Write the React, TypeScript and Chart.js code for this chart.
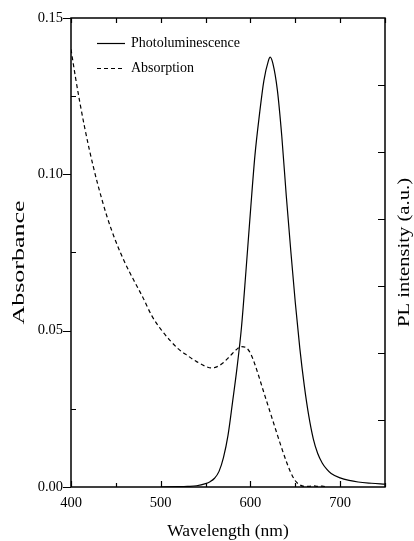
import React, { useEffect, useRef } from "react";
import { Chart, registerables } from "chart.js";

Chart.register(...registerables);

// ---- data ----
const absWavelength = [400, 405, 410, 415, 420, 425, 430, 440, 450, 460, 470, 480, 490, 500, 510, 520, 530, 540, 550, 556, 560, 565, 570, 575, 580, 585, 590, 595, 600, 605, 610, 615, 620, 625, 630, 635, 640, 645, 650, 655, 660, 665, 670, 675, 680, 685];
const absValues = [0.1400, 0.1310, 0.1228, 0.1153, 0.1085, 0.1023, 0.0966, 0.0866, 0.0785, 0.0718, 0.0661, 0.0607, 0.0548, 0.0505, 0.0470, 0.0441, 0.0420, 0.0401, 0.0386, 0.0381, 0.0382, 0.0388, 0.0398, 0.0412, 0.0427, 0.0441, 0.0449, 0.0446, 0.0428, 0.0392, 0.0348, 0.0302, 0.0257, 0.0212, 0.0167, 0.0123, 0.0082, 0.0046, 0.0020, 0.0007, 0.0002, 0.0002, 0.0004, 0.0002, 0.0003, 0.0];

const plWavelength = [500, 520, 530, 540, 550, 555, 560, 565, 570, 575, 580, 585, 590, 595, 600, 605, 610, 615, 620, 622, 625, 630, 635, 640, 645, 650, 655, 660, 665, 670, 675, 680, 685, 690, 700, 710, 720, 735, 750];
const plValues = [0, 0.0001, 0.0002, 0.0004, 0.0011, 0.0017, 0.0028, 0.005, 0.0095, 0.0165, 0.027, 0.038, 0.051, 0.069, 0.088, 0.106, 0.119, 0.130, 0.1363, 0.1375, 0.1355, 0.127, 0.112, 0.093, 0.0755, 0.059, 0.0445, 0.0325, 0.0228, 0.0155, 0.0107, 0.0077, 0.0057, 0.0043, 0.0029, 0.0021, 0.0016, 0.0012, 0.0009];

const seriesLabels = ["Photoluminescence", "Absorption"];
const xTickValues = [400, 500, 600, 700];
const xMinorStep = 50;
const yTickValues = [0, 0.05, 0.1, 0.15];
const yMinorStep = 0.025;
const y2TickValues = [1, 2, 3, 4, 5, 6];
const xTitle = "Wavelength (nm)";
const yTitle = "Absorbance";
const y2Title = "PL intensity (a.u.)";

const SERIF = "'Liberation Serif', 'Times New Roman', serif";

const frameTicksPlugin = {
  id: "frameTicks",
  afterDraw(chart: any) {
    const { ctx, chartArea } = chart;
    const { left, right, top, bottom } = chartArea;
    const xs = chart.scales.x;
    const ys = chart.scales.y;
    const y2s = chart.scales.y2;
    ctx.save();
    ctx.strokeStyle = "#000";
    ctx.lineWidth = 1.5;
    ctx.strokeRect(left, top, right - left, bottom - top);
    ctx.lineWidth = 1.2;
    ctx.beginPath();
    for (let v = xs.min; v <= xs.max + 1e-9; v += xMinorStep) {
      const px = Math.round(xs.getPixelForValue(v)) + 0.5;
      const major = xTickValues.includes(v);
      ctx.moveTo(px, bottom);
      ctx.lineTo(px, bottom - (major ? 6 : 4));
      ctx.moveTo(px, top);
      ctx.lineTo(px, top + 5);
    }
    for (let i = 0; i * yMinorStep <= ys.max + 1e-9; i++) {
      const v = i * yMinorStep;
      const py = Math.round(ys.getPixelForValue(v)) + 0.5;
      if (i % 2 === 0) {
        ctx.moveTo(left - 8, py);
        ctx.lineTo(left, py);
      } else {
        ctx.moveTo(left, py);
        ctx.lineTo(left + 5, py);
      }
    }
    for (const v of y2TickValues) {
      const py = Math.round(y2s.getPixelForValue(v)) + 0.5;
      ctx.moveTo(right, py);
      ctx.lineTo(right - 7, py);
    }
    ctx.stroke();
    ctx.restore();
  },
};

const innerLegendPlugin = {
  id: "innerLegend",
  afterDraw(chart: any) {
    const { ctx, chartArea } = chart;
    const x0 = chartArea.left + 26;
    const y0 = chartArea.top + 25;
    ctx.save();
    ctx.font = `14px ${SERIF}`;
    ctx.fillStyle = "#000";
    ctx.textBaseline = "middle";
    chart.data.datasets.forEach((ds: any, i: number) => {
      const y = Math.round(y0 + i * 25) + 0.5;
      ctx.strokeStyle = "#000";
      ctx.lineWidth = 1.2;
      ctx.setLineDash(ds.borderDash || []);
      ctx.beginPath();
      ctx.moveTo(x0, y);
      ctx.lineTo(x0 + 28, y);
      ctx.stroke();
      ctx.setLineDash([]);
      ctx.fillText(ds.label, x0 + 34, y);
    });
    ctx.restore();
  },
};

const verticalTitlesPlugin = {
  id: "verticalTitles",
  afterDraw(chart: any) {
    const { ctx, chartArea } = chart;
    const midY = (chartArea.top + chartArea.bottom) / 2;
    const draw = (text: string, cx: number, cy: number, length: number) => {
      ctx.save();
      ctx.translate(cx, cy);
      ctx.rotate(-Math.PI / 2);
      ctx.font = `17px ${SERIF}`;
      const w = ctx.measureText(text).width;
      ctx.scale(length / w, 1);
      ctx.fillStyle = "#000";
      ctx.textAlign = "center";
      ctx.textBaseline = "middle";
      ctx.fillText(text, 0, 0);
      ctx.restore();
    };
    draw(yTitle, 20, midY + 10, 124);
    draw(y2Title, 405, midY, 149);
  },
};

export default function App() {
  const canvasRef = useRef<HTMLCanvasElement | null>(null);

  useEffect(() => {
    document.body.style.margin = "0";
    const canvas = canvasRef.current;
    if (!canvas) return;
    const chart = new Chart(canvas, {
      type: "line",
      data: {
        datasets: [
          {
            label: seriesLabels[0],
            data: plWavelength.map((x, i) => ({ x, y: plValues[i] })),
            borderColor: "#000",
            borderWidth: 1.2,
            pointRadius: 0,
            cubicInterpolationMode: "monotone",
            fill: false,
            yAxisID: "y",
          },
          {
            label: seriesLabels[1],
            data: absWavelength.map((x, i) => ({ x, y: absValues[i] })),
            borderColor: "#000",
            borderWidth: 1.2,
            borderDash: [4, 3],
            pointRadius: 0,
            cubicInterpolationMode: "monotone",
            fill: false,
            yAxisID: "y",
          },
        ],
      },
      options: {
        animation: false,
        responsive: true,
        maintainAspectRatio: false,
        layout: { padding: { top: 18, left: 0, right: 0, bottom: 0 } },
        plugins: {
          legend: { display: false },
          tooltip: { enabled: false },
        },
        scales: {
          x: {
            type: "linear",
            position: "bottom",
            min: 400,
            max: 750,
            afterBuildTicks: (s: any) => {
              s.ticks = xTickValues.map((v) => ({ value: v }));
            },
            afterFit: (s: any) => {
              s.height = 54;
            },
            grid: { display: false, drawTicks: false },
            border: { display: false },
            ticks: {
              color: "#000",
              font: { family: SERIF, size: 14.5 },
              padding: 7,
              maxRotation: 0,
            },
            title: {
              display: true,
              text: xTitle,
              color: "#000",
              font: { family: SERIF, size: 17.5 },
              padding: { top: 0, bottom: -1 },
            },
          },
          y: {
            type: "linear",
            position: "left",
            min: 0,
            max: 0.15,
            afterBuildTicks: (s: any) => {
              s.ticks = yTickValues.map((v) => ({ value: v }));
            },
            afterFit: (s: any) => {
              s.width = 71;
            },
            grid: { display: false, drawTicks: false },
            border: { display: false },
            ticks: {
              color: "#000",
              font: { family: SERIF, size: 14.5 },
              padding: 8,
              callback: (v: any) => Number(v).toFixed(2),
            },
            title: { display: false },
          },
          y2: {
            type: "linear",
            position: "right",
            min: 0,
            max: 7,
            afterBuildTicks: (s: any) => {
              s.ticks = y2TickValues.map((v) => ({ value: v }));
            },
            afterFit: (s: any) => {
              s.width = 29;
            },
            grid: { display: false, drawTicks: false },
            border: { display: false },
            ticks: { display: false },
            title: { display: false },
          },
        },
      },
      plugins: [frameTicksPlugin, innerLegendPlugin, verticalTitlesPlugin],
    } as any);
    return () => chart.destroy();
  }, []);

  return (
    <div style={{ width: 414, height: 541, position: "relative" }}>
      <canvas ref={canvasRef} />
    </div>
  );
}
